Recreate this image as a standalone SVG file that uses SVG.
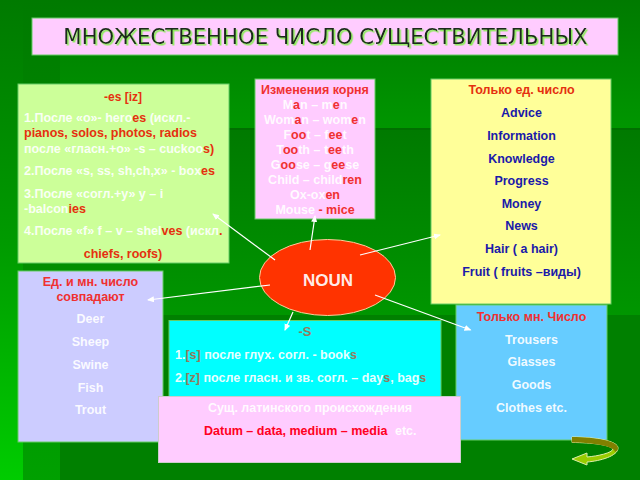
<svg xmlns="http://www.w3.org/2000/svg" width="640" height="480" viewBox="0 0 640 480">
<defs>
<marker id="ah" markerWidth="8" markerHeight="8" refX="6" refY="3" orient="auto" markerUnits="userSpaceOnUse"><path d="M0,0 L7,3 L0,6 Z" fill="#fff"/></marker>
<filter id="sh" x="-5%" y="-30%" width="110%" height="160%"><feDropShadow dx="1.500" dy="1.500" stdDeviation="0.300" flood-color="#88ee55"/></filter>
<linearGradient id="edge" x1="0" y1="0" x2="0" y2="1"><stop offset="0" stop-color="#007a00"/><stop offset="0.5" stop-color="#009a00"/><stop offset="1" stop-color="#00cc00"/></linearGradient>
<linearGradient id="edge2" x1="0" y1="0" x2="0" y2="1"><stop offset="0" stop-color="#007a00"/><stop offset="1" stop-color="#00a000"/></linearGradient>
<linearGradient id="band" x1="0" y1="0" x2="0" y2="1"><stop offset="0" stop-color="#007a00"/><stop offset="1" stop-color="#009600"/></linearGradient>
</defs>
<style>
text{font-family:"Liberation Sans",Arial,sans-serif;font-weight:bold;font-size:12.500px;fill:#fff;fill-opacity:.92;text-anchor:middle}
tspan{fill-opacity:1}
.l{text-anchor:start}
.r{fill:#e5300f;fill-opacity:1}
.p{fill:#f03030;fill-opacity:1}
.b{fill:#1a1aaa;fill-opacity:1}
.g{fill:#947a5e;fill-opacity:1}
.box{stroke:#66cc66;stroke-width:1}
.c{stroke:#fff;stroke-width:1.200;fill:none;marker-end:url(#ah)}
</style>
<rect width="640" height="480" fill="#008000"/>
<rect x="60" y="0" width="580" height="128" fill="url(#band)"/>
<rect x="60" y="130" width="580" height="185" fill="url(#band)"/>
<rect x="23" y="0" width="37" height="480" fill="url(#edge2)"/>
<rect x="0" y="0" width="23" height="480" fill="url(#edge)"/>
<rect x="60" y="128" width="580" height="2" fill="#006f00"/>
<g id="title"><rect class="box" x="32" y="18" width="586" height="37" fill="#ffccff"/>
<text x="325.500" y="44" filter="url(#sh)" style="font-size:21.200px;font-weight:normal;font-family:'DejaVu Sans',sans-serif;fill:#1a2a1a;fill-opacity:1">МНОЖЕСТВЕННОЕ ЧИСЛО СУЩЕСТВИТЕЛЬНЫХ</text></g>
<g id="es"><rect class="box" x="18" y="84" width="211" height="179" fill="#ccff99"/>
<text x="123" y="100.500" class="r" style="font-size:12px">-es [iz]</text>
<text x="24" y="122" class="l">1.После «о»- hero<tspan class="r">es</tspan> (искл.-</text>
<text x="24" y="137" class="l r">pianos, solos, photos, radios</text>
<text x="24" y="152.500" class="l">после «гласн.+о» -s – cuckoo<tspan class="r">s)</tspan></text>
<text x="24" y="175" class="l">2.После «s, ss, sh,ch,x» - box<tspan class="r">es</tspan></text>
<text x="24" y="197.500" class="l">3.После «согл.+у» y – i</text>
<text x="24" y="212.500" class="l">-balcon<tspan class="r">ies</tspan></text>
<text x="24" y="235" class="l">4.После «f» f – v – shel<tspan class="r">ves</tspan> (искл<tspan class="r">.</tspan></text>
<text x="123" y="258" class="r">chiefs, roofs)</text></g>
<g id="root"><rect class="box" x="255" y="79" width="120" height="140" fill="#ffccff"/>
<text x="315" y="94" class="p">Изменения корня</text>
<text x="315" y="109">M<tspan class="p">a</tspan>n – m<tspan class="p">e</tspan>n</text>
<text x="315" y="124">Wom<tspan class="p">a</tspan>n – wom<tspan class="p">e</tspan>n</text>
<text x="315" y="139">F<tspan class="p">oo</tspan>t – f<tspan class="p">ee</tspan>t</text>
<text x="315" y="154">T<tspan class="p">oo</tspan>th – t<tspan class="p">ee</tspan>th</text>
<text x="315" y="169">G<tspan class="p">oo</tspan>se – g<tspan class="p">ee</tspan>se</text>
<text x="315" y="184">Child – child<tspan class="p">ren</tspan></text>
<text x="315" y="199">Ox-ox<tspan class="p">en</tspan></text>
<text x="315" y="214">Mouse <tspan class="p">- mice</tspan></text></g>
<g id="sg"><rect class="box" x="431" y="79" width="180" height="225" fill="#ffff99"/>
<text x="521.500" y="94" class="r">Только ед. число</text>
<text x="521.500" y="117" class="b">Advice</text>
<text x="521.500" y="139.500" class="b">Information</text>
<text x="521.500" y="162.500" class="b">Knowledge</text>
<text x="521.500" y="185" class="b">Progress</text>
<text x="521.500" y="208" class="b">Money</text>
<text x="521.500" y="230" class="b">News</text>
<text x="521.500" y="253" class="b">Hair ( a hair)</text>
<text x="521.500" y="276" class="b">Fruit ( fruits –виды)</text></g>
<g id="same"><rect class="box" x="18" y="271" width="145" height="171" fill="#ccccff"/>
<text x="90.500" y="286" class="p">Ед. и мн. число</text>
<text x="90.500" y="301" class="p">совпадают</text>
<text x="90.500" y="323">Deer</text>
<text x="90.500" y="346">Sheep</text>
<text x="90.500" y="369">Swine</text>
<text x="90.500" y="392">Fish</text>
<text x="90.500" y="414">Trout</text></g>
<g id="pl"><rect class="box" x="456" y="305" width="151" height="135" fill="#66ccff"/>
<text x="531.500" y="321" class="p">Только мн. Число</text>
<text x="531.500" y="344">Trousers</text>
<text x="531.500" y="366">Glasses</text>
<text x="531.500" y="389">Goods</text>
<text x="531.500" y="412">Clothes etc.</text></g>
<g id="s"><rect class="box" x="169" y="320.500" width="272" height="90" fill="#00ffff"/>
<text x="305" y="336" class="g" style="font-size:13px">-S</text>
<text x="175" y="359" class="l">1.<tspan class="g">[s]</tspan> после глух. согл. - book<tspan class="g">s</tspan></text>
<text x="175" y="381.500" class="l">2.<tspan class="g">[z]</tspan> после гласн. и зв. согл. – day<tspan class="g">s</tspan>, bag<tspan class="g">s</tspan></text></g>
<g id="lat"><rect x="158.500" y="396.500" width="302" height="66" fill="#ffccff" stroke="#cccccc"/>
<text x="310" y="412">Сущ. латинского происхождения</text>
<text x="204" y="434.500" class="l" style="fill:#ff0022;fill-opacity:1">Datum – data, medium – media</text>
<text x="395" y="434.500" class="l">etc.</text></g>
<g id="noun"><ellipse cx="327.500" cy="277.500" rx="68" ry="38" fill="#ff3300" stroke="#ffcc99"/>
<text x="328" y="285.500" style="font-size:17px">NOUN</text></g>
<g id="connectors">
<path class="c" d="M275,260 L213,214"/>
<path class="c" d="M310,250 L315,216"/>
<path class="c" d="M360,255 L440,235"/>
<path class="c" d="M270,285 L148,300"/>
<path class="c" d="M293,312 L285,330"/>
<path class="c" d="M375,295 L470.500,330"/>
</g>
<g id="back">
<path d="M572,437 C596,437 618,441 618,448 C618,456 600,461 587,462 L587,465 L572,459 L587,453 L587,457 C598,456 612,453 613,449 C610,445 592,442.500 572,442.500 Z" fill="#99cc00" stroke="#ddeeaa"/>
<path d="M572,437 C596,437 618,441 618,448 C618,450 617,451 615,452 C615,446 592,442.500 572,442.500 Z" fill="#808000"/>
</g>
</svg>
